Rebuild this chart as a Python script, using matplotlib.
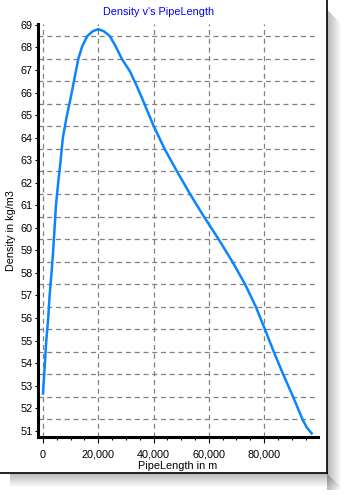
import matplotlib
matplotlib.use("Agg")
import matplotlib.pyplot as plt
from matplotlib.patches import Rectangle
from matplotlib.lines import Line2D
from matplotlib.ticker import FixedLocator, FuncFormatter

plt.rcParams['font.family'] = ['Liberation Sans', 'DejaVu Sans']

# data
pipe_length = [0, 700, 1200, 1900, 2400, 3100, 3700, 4200, 4700, 5500,
               6400, 7200, 8600, 10000, 11200, 12800, 14200, 16000, 18000, 20000,
               22000, 24200, 26300, 28500, 31500, 33900, 36000, 40100, 44000, 48500,
               53200, 58200, 63500, 68500, 73100, 77000, 80300, 83500, 86900, 90500,
               93900, 95400, 97200]
density = [52.65, 54.0, 55.0, 56.0, 57.0, 58.0, 59.0, 60.0, 61.0, 62.0,
           63.0, 64.0, 64.95, 65.75, 66.5, 67.5, 68.05, 68.5, 68.72, 68.81,
           68.72, 68.5, 68.05, 67.5, 66.93, 66.3, 65.7, 64.5, 63.5, 62.5,
           61.5, 60.5, 59.5, 58.5, 57.5, 56.5, 55.5, 54.5, 53.5, 52.5,
           51.5, 51.15, 50.88]

x_ticks = [0, 20000, 40000, 60000, 80000]
x_minor = list(range(0, 100000, 5000))
y_ticks = list(range(51, 70))
y_grid = [v + 0.5 for v in range(51, 69)]

W, H = 353, 503
fs = 7.8
fig = plt.figure(figsize=(W / 100, H / 100), dpi=100)
fig.patch.set_facecolor('white')

# drop shadow of the panel
for i in range(14):
    a = 0.28 * (1 - i / 14)
    fig.patches.append(Rectangle(((327 + i) / W, 1 - 490 / H), 1 / W, (480 - i) / H,
                                 transform=fig.transFigure, color='black', alpha=a, lw=0))
    fig.patches.append(Rectangle((10 / W, 1 - (474 + i) / H), (317 + i) / W, 1 / H,
                                 transform=fig.transFigure, color='black', alpha=a, lw=0))
# panel border (right and bottom)
fig.lines.append(Line2D([326.5 / W, 326.5 / W], [1, 1 - 473 / H], transform=fig.transFigure,
                        color='black', lw=1.2))
fig.lines.append(Line2D([0, 327 / W], [1 - 472.5 / H, 1 - 472.5 / H], transform=fig.transFigure,
                        color='black', lw=1.2))

ax = fig.add_axes([38 / W, 1 - 437 / H, 280 / W, 413 / H])
ax.plot(pipe_length, density, color='#0A84FF', lw=1.8)

ax.set_xlim(-1800, 99500)
ax.set_ylim(50.72, 69.04)

ax.xaxis.set_major_locator(FixedLocator(x_ticks))
ax.xaxis.set_minor_locator(FixedLocator(x_minor))
ax.xaxis.set_major_formatter(FuncFormatter(lambda v, p: f"{int(v):,}"))
ax.yaxis.set_major_locator(FixedLocator(y_ticks))
ax.yaxis.set_minor_locator(FixedLocator(y_grid))

ax.grid(True, which='major', axis='x', color='#808080', ls=(0, (4, 3)), lw=0.9)
ax.grid(True, which='minor', axis='y', color='#808080', ls=(0, (4, 3)), lw=0.9)
ax.grid(False, which='major', axis='y')

for s in ['top', 'right']:
    ax.spines[s].set_visible(False)
for s in ['left', 'bottom']:
    ax.spines[s].set_linewidth(2.2)

ax.tick_params(axis='x', which='major', length=4, width=0.8, labelsize=fs, pad=5)
ax.tick_params(axis='x', which='minor', length=2, width=0.8)
ax.tick_params(axis='y', which='major', length=2, width=0.8, labelsize=fs, pad=2)
ax.tick_params(axis='y', which='minor', length=0)

ax.set_xlabel("PipeLength in m", fontsize=fs, labelpad=1)
ax.set_ylabel("Density in kg/m3", fontsize=fs, labelpad=3)
fig.text(159 / W, 1 - 12 / H, "Density v's PipeLength", color='#0000FF',
         fontsize=fs, ha='center', va='center')

fig.savefig("out.png", dpi=100)
